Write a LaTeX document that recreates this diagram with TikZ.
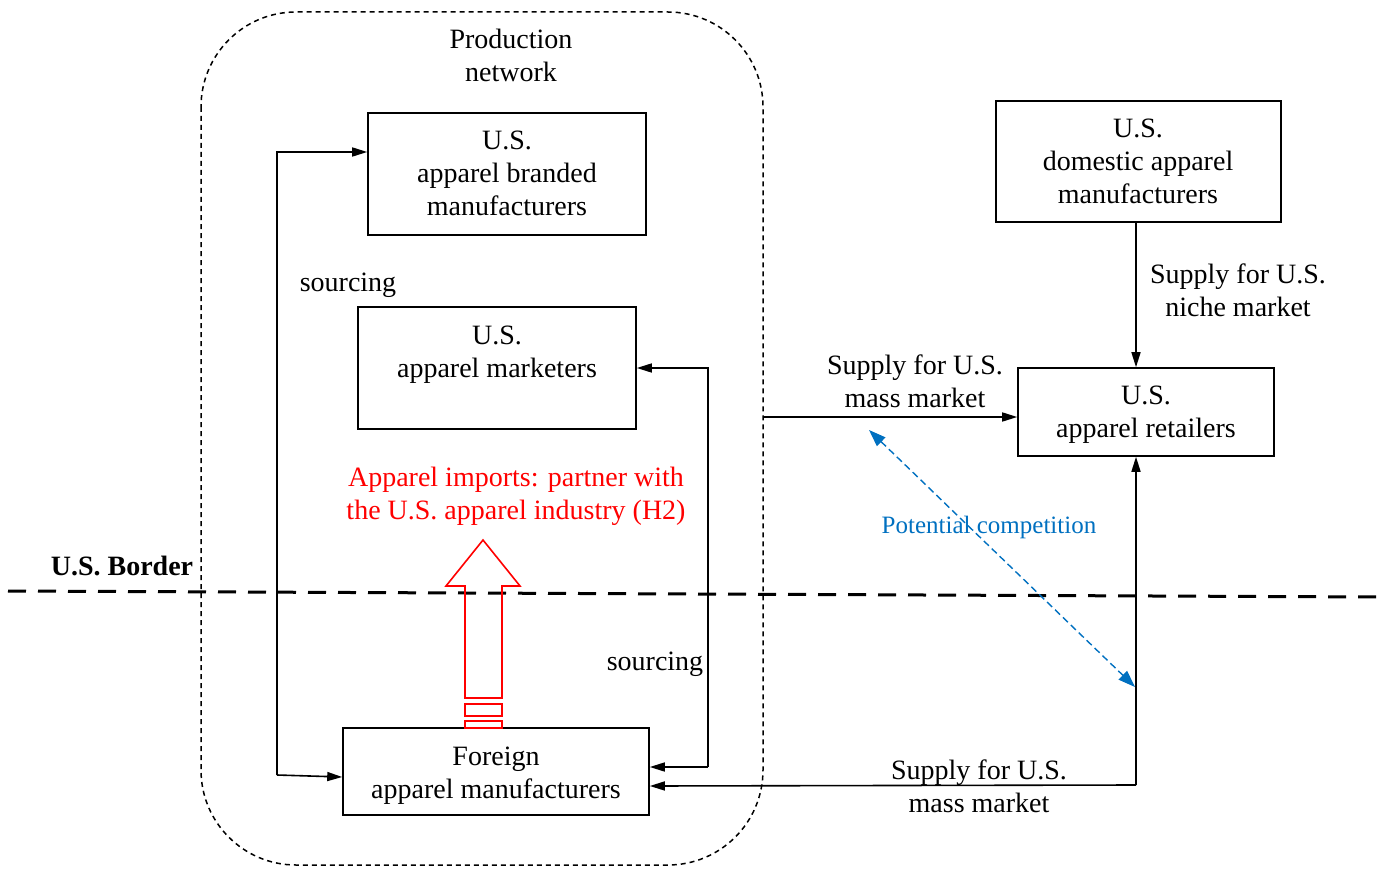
\documentclass[tikz,border=0pt]{standalone}
\usepackage{fontspec}
\setmainfont{Liberation Serif}
\usetikzlibrary{arrows.meta}
\definecolor{compblue}{RGB}{0,112,192}
\tikzset{
  txt/.style={font=\fontsize{28}{33}\selectfont, align=center, inner sep=0pt},
  box/.style={draw, line width=1.6pt, inner sep=0pt},
  conn/.style={line width=1.6pt, -{Triangle[length=15pt,width=9pt]}},
  plain/.style={line width=1.6pt},
}
\begin{document}
\begin{tikzpicture}[x=1pt,y=-1pt]
\useasboundingbox (0,0) rectangle (1391,869);
% production network
\draw[line width=1.5pt, dash pattern=on 5pt off 4pt, rounded corners=95pt] (201,12) rectangle (763,865);
\node[txt] (prod) at (511,55) {Production\\network};
% boxes
\node[box, minimum width=278, minimum height=122] (b1) at (507,174) {};
\node[txt] (t1) at (507,173) {U.S.\\apparel branded\\manufacturers};
\node[box, minimum width=278, minimum height=122] (b2) at (497,368) {};
\node[txt] (t2) at (497,355) {U.S.\\apparel marketers};
\node[box, minimum width=306, minimum height=87] (b3) at (496,771.5) {};
\node[txt] (t3) at (496,776) {Foreign\\apparel manufacturers};
\node[box, minimum width=285, minimum height=121] (b4) at (1138.5,161.5) {};
\node[txt] (t4) at (1138,161) {U.S.\\domestic apparel\\manufacturers};
\node[box, minimum width=256, minimum height=88] (b5) at (1146,412) {};
\node[txt] (t5) at (1146,415) {U.S.\\apparel retailers};
% border
\coordinate (bl) at (8,591);
\coordinate (br) at (1383,597);
\draw[line width=3pt, dash pattern=on 18pt off 12pt] (bl) -- (br);
\node[txt, font=\fontsize{28}{33}\selectfont\bfseries] (border) at (122,566) {U.S. Border};
% left sourcing loop
\coordinate (l1) at (277,775);
\coordinate (l2) at (277,152);
\draw[conn] (l1) -- (l2) -- (b1.west |- l2);
\draw[conn] (l1) -- (b3.west |- 0,777);
\node[txt] (s1) at (348,285) {sourcing};
% right sourcing loop
\coordinate (r1) at (708,368);
\coordinate (r2) at (708,767);
\draw[conn] (r2) -- (r1) -- (b2.east);
\draw[conn] (r2) -- (b3.east |- r2);
\node[txt] (s2) at (655,664) {sourcing};
% mass market (domestic)
\coordinate (m1) at (763,417);
\draw[conn] (m1) -- (b5.west |- m1);
\node[txt] (sm1) at (915,381) {Supply for U.S.\\mass market};
% niche
\draw[conn] (b4.south -| 1136,0) -- (b5.north -| 1136,0);
\node[txt] (sn) at (1238,290) {Supply for U.S.\\niche market};
% imports mass market
\coordinate (c1) at (1136,785);
\draw[conn] (c1) -- (b5.south -| c1);
\draw[conn] (c1) -- (b3.east |- 0,786);
\node[txt] (sm2) at (979,786) {Supply for U.S.\\mass market};
% potential competition
\coordinate (p1) at (869,430);
\coordinate (p2) at (1135,687);
\draw[compblue, line width=1.4pt, dash pattern=on 7pt off 4pt, {Triangle[length=17pt,width=12pt]}-{Triangle[length=17pt,width=12pt]}] (p1) -- (p2);
\node[txt, font=\fontsize{25}{30}\selectfont, text=compblue] (pc) at (989,527) {Potential competition};
% red hollow arrow
\draw[red, line width=1.6pt, line join=miter] (465,698) -- (465,586) -- (446,586) -- (483,540) -- (520,586) -- (502,586) -- (502,698) -- cycle;
\draw[red, line width=1.6pt] (465,704) rectangle (502,716);
\draw[red, line width=1.6pt] (465,721) rectangle (502,728);
\node[txt, text=red] (h2) at (516,496) {Apparel imports: partner with\\the U.S. apparel industry (H2)};
\end{tikzpicture}
\end{document}
